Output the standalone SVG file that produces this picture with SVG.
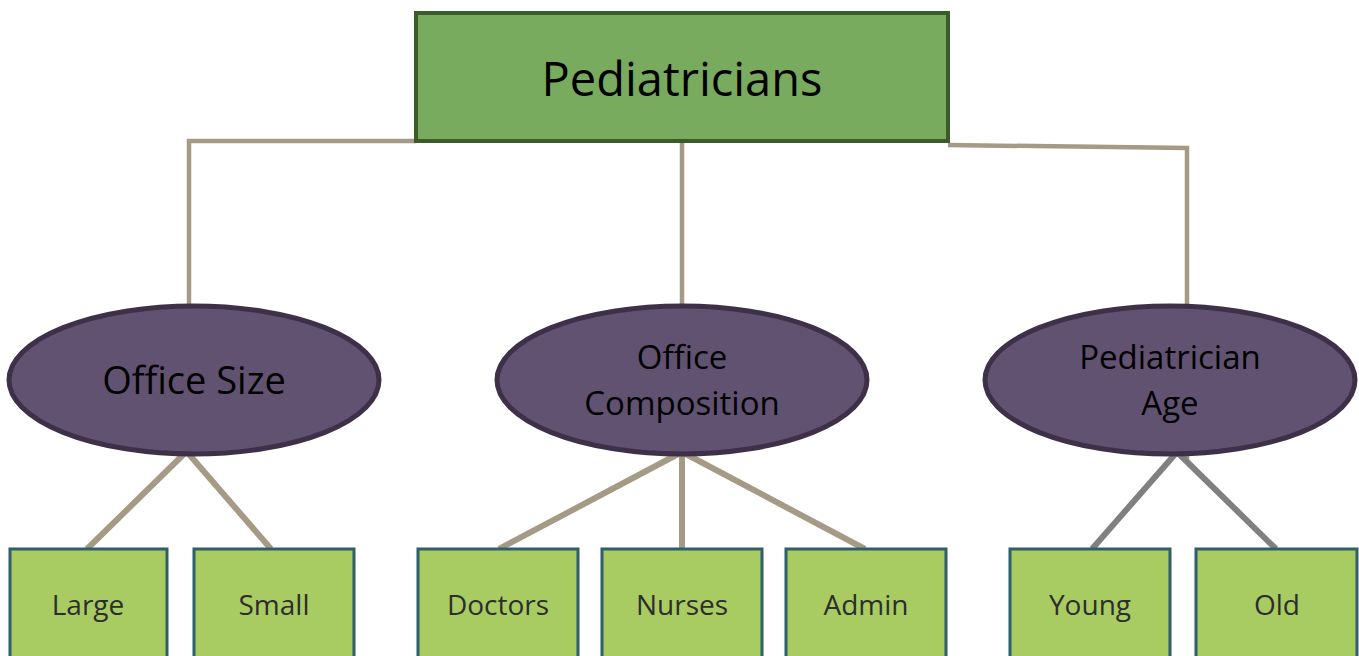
<svg xmlns="http://www.w3.org/2000/svg" width="1359" height="656" viewBox="0 0 1359 656">
  <style>
    text { font-family: "Open Sans", "Noto Sans", "Liberation Sans", sans-serif; text-anchor: middle; }
    .root { fill: #78ab5e; stroke: #3d5a2a; stroke-width: 4; }
    .cat { fill: #625272; stroke: #3d3048; stroke-width: 5; }
    .leaf { fill: #a9cc62; stroke: #2f5f68; stroke-width: 3; }
    .link { fill: none; stroke: #a59a85; stroke-width: 4.5; }
    .branch { fill: none; stroke: #a59a85; stroke-width: 6; }
    .branch-grey { fill: none; stroke: #808080; stroke-width: 6; }
    .t-root { font-size: 47px; fill: #000; }
    .t-cat { font-size: 33px; fill: #000; }
    .t-cat-big { font-size: 38px; fill: #000; }
    .t-leaf { font-size: 28px; fill: #2d2d2d; }
  </style>

  <g id="connectors">
    <polyline class="link" points="416,141 189,141 189,306"/>
    <line class="link" x1="682" y1="143" x2="682" y2="306"/>
    <polyline class="link" points="948,145 1187,148 1187,462"/>
    <line class="branch" x1="186" y1="452" x2="87" y2="549"/>
    <line class="branch" x1="187" y1="452" x2="271" y2="549"/>
    <line class="branch" x1="682" y1="452" x2="499" y2="549"/>
    <line class="branch" x1="682" y1="452" x2="682" y2="549"/>
    <line class="branch" x1="682" y1="452" x2="865" y2="549"/>
    <line class="branch-grey" x1="1177" y1="452" x2="1092" y2="549"/>
    <line class="branch-grey" x1="1177" y1="452" x2="1276" y2="549"/>
  </g>

  <g id="pediatricians">
    <rect class="root" x="416" y="13" width="532" height="128"/>
    <text class="t-root" x="682" y="96">Pediatricians</text>
  </g>

  <g id="office-size">
    <ellipse class="cat" cx="194" cy="380" rx="185" ry="74"/>
    <text class="t-cat-big" x="194" y="394">Office Size</text>
  </g>
  <g id="office-composition">
    <ellipse class="cat" cx="682" cy="380" rx="185" ry="74"/>
    <text class="t-cat" x="682" y="369">Office</text>
    <text class="t-cat" x="682" y="415">Composition</text>
  </g>
  <g id="pediatrician-age">
    <ellipse class="cat" cx="1170" cy="380" rx="185" ry="74"/>
    <text class="t-cat" x="1170" y="369">Pediatrician</text>
    <text class="t-cat" x="1170" y="415">Age</text>
  </g>

  <g id="large">
    <rect class="leaf" x="10" y="549" width="157" height="112"/>
    <text class="t-leaf" x="88" y="615">Large</text>
  </g>
  <g id="small">
    <rect class="leaf" x="194" y="549" width="160" height="112"/>
    <text class="t-leaf" x="274" y="615">Small</text>
  </g>
  <g id="doctors">
    <rect class="leaf" x="418" y="549" width="160" height="112"/>
    <text class="t-leaf" x="498" y="615">Doctors</text>
  </g>
  <g id="nurses">
    <rect class="leaf" x="602" y="549" width="160" height="112"/>
    <text class="t-leaf" x="682" y="615">Nurses</text>
  </g>
  <g id="admin">
    <rect class="leaf" x="786" y="549" width="160" height="112"/>
    <text class="t-leaf" x="866" y="615">Admin</text>
  </g>
  <g id="young">
    <rect class="leaf" x="1010" y="549" width="160" height="112"/>
    <text class="t-leaf" x="1090" y="615">Young</text>
  </g>
  <g id="old">
    <rect class="leaf" x="1196" y="549" width="161" height="112"/>
    <text class="t-leaf" x="1277" y="615">Old</text>
  </g>
</svg>
